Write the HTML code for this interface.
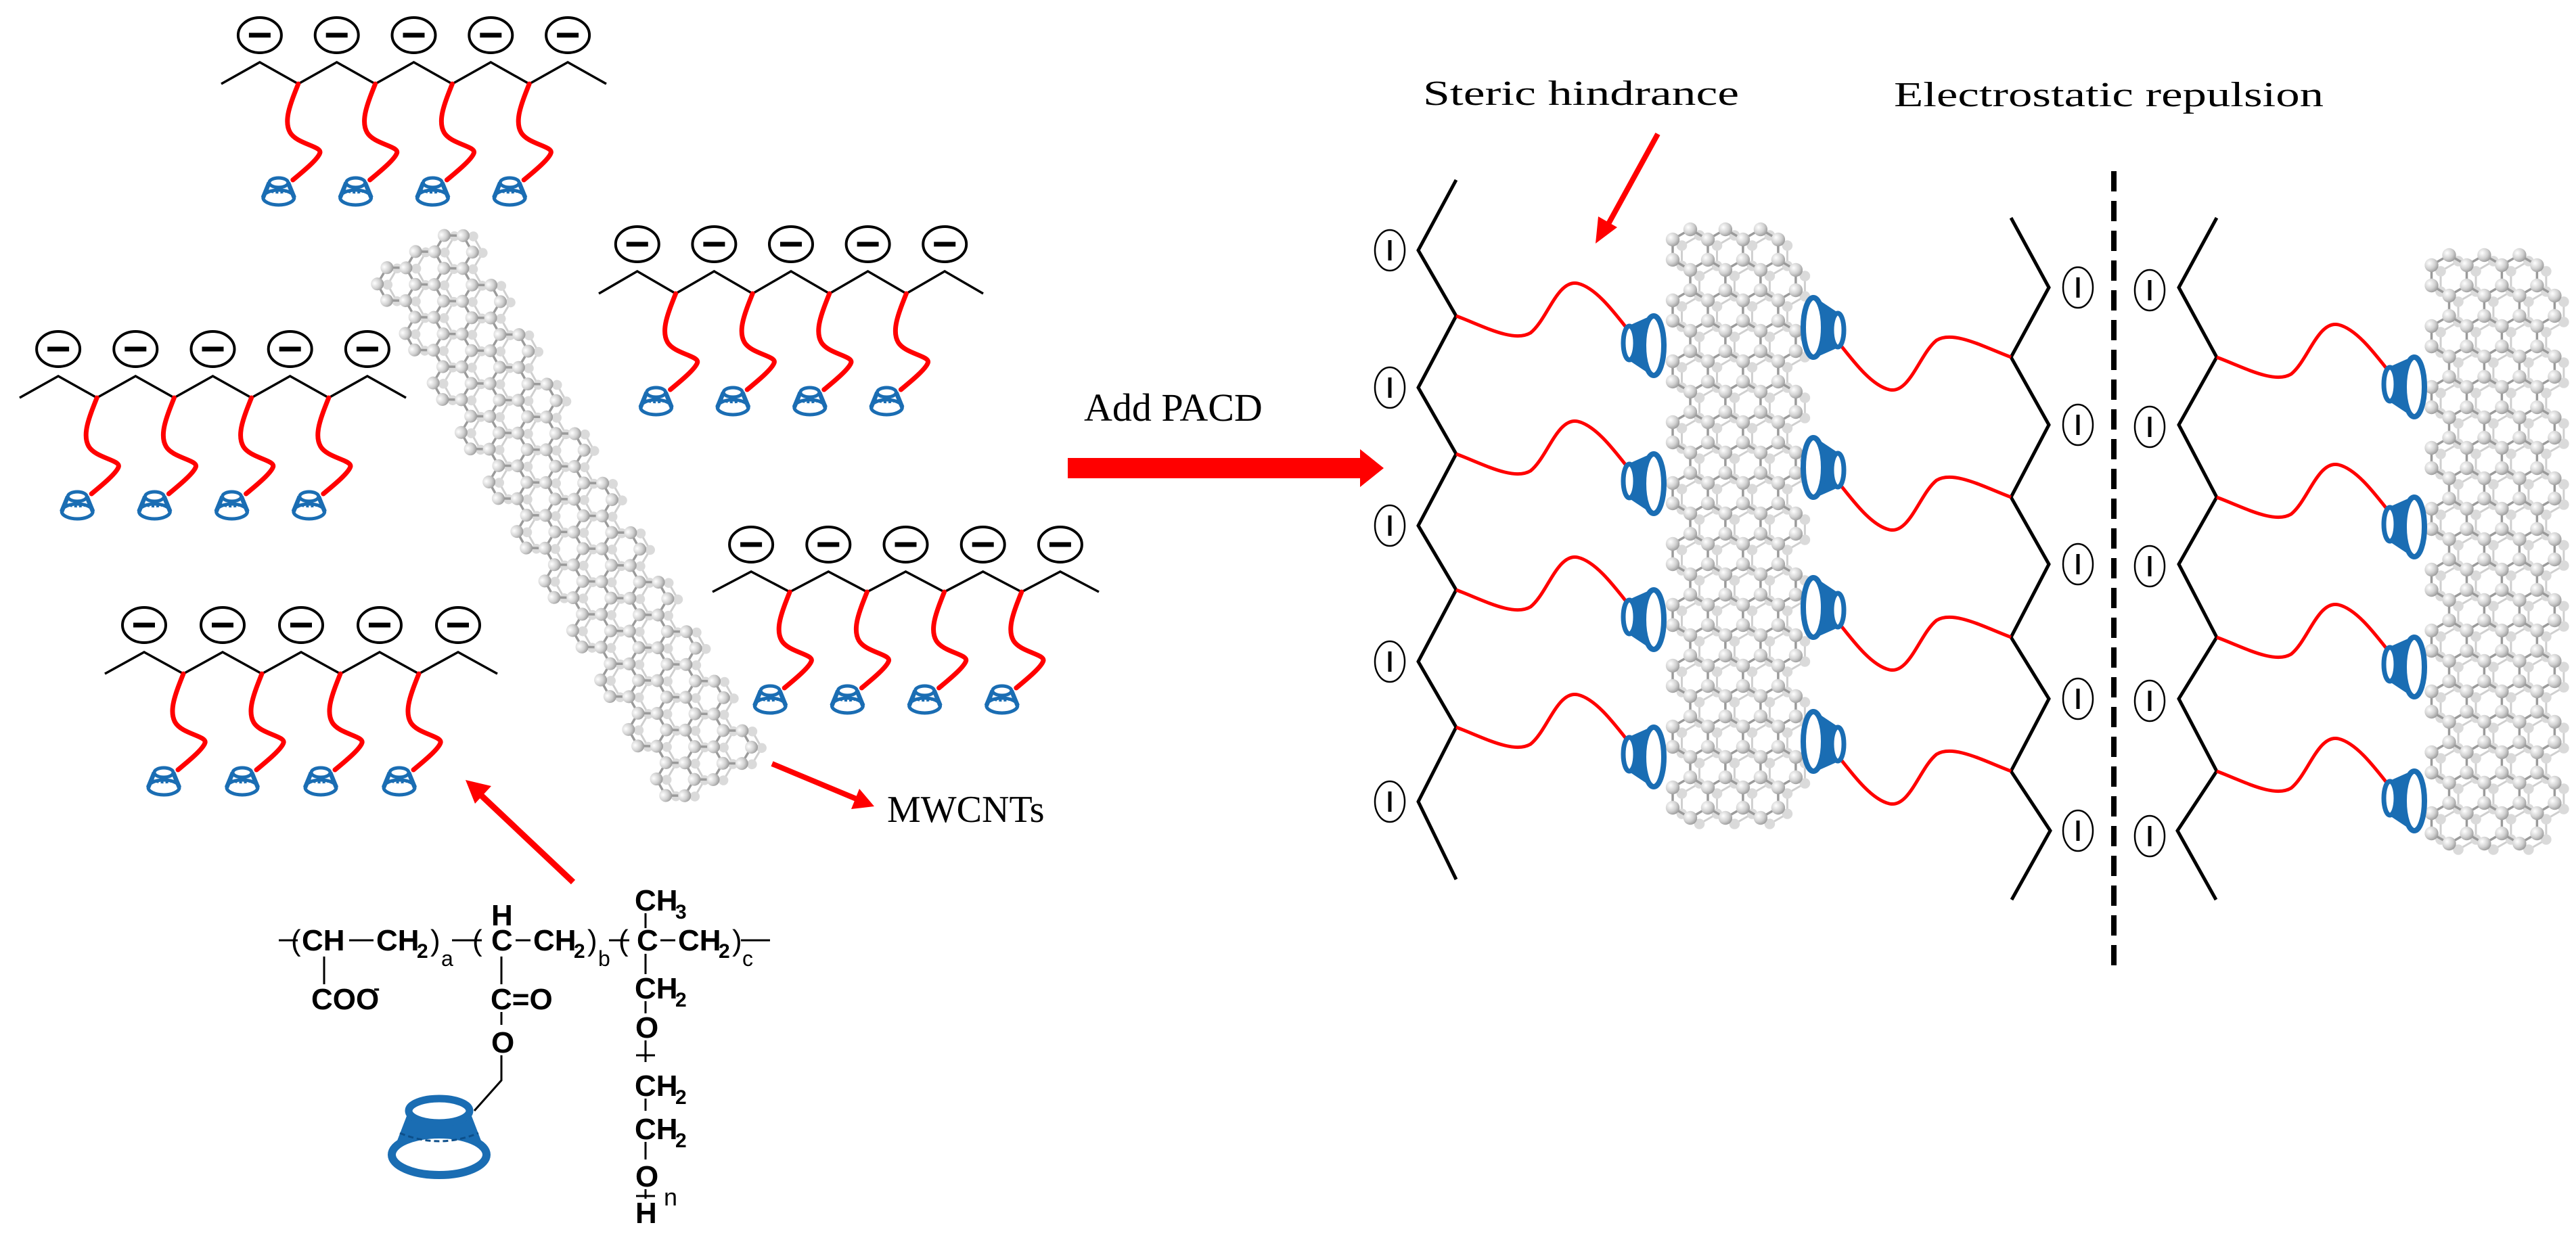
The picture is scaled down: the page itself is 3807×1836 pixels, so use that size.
<!DOCTYPE html>
<html><head><meta charset="utf-8"><style>
html,body{margin:0;padding:0;background:#fff;}
svg{display:block;}
.f{font-family:"Liberation Sans",sans-serif;font-weight:bold;font-size:44px;fill:#000;}
.t{font-family:"Liberation Serif",serif;fill:#000;}
</style></head><body>
<svg id="s" width="3807" height="1836" viewBox="0 0 3807 1836" xmlns="http://www.w3.org/2000/svg">
<defs>
<radialGradient id="ball" cx="0.35" cy="0.35" r="0.7"><stop offset="0" stop-color="#ffffff"/><stop offset="0.6" stop-color="#d0d0d0"/><stop offset="1" stop-color="#9a9a9a"/></radialGradient>
</defs>
<g id="cnts"></g>
<g id="main"></g>
<text class="t" x="1602" y="622" font-size="58">Add PACD</text>
<text class="t" x="2103" y="155" font-size="52" textLength="467" lengthAdjust="spacingAndGlyphs">Steric hindrance</text>
<text class="t" x="2799" y="157" font-size="52" textLength="635" lengthAdjust="spacingAndGlyphs">Electrostatic repulsion</text>
<text class="t" x="1311" y="1215" font-size="56">MWCNTs</text>
<rect x="1578" y="677" width="440" height="30" fill="#f00"/>
<polygon points="2010,664 2045,692 2010,720" fill="#f00"/>
<line x1="2450" y1="198" x2="2372" y2="340" stroke="#f00" stroke-width="8"/>
<polygon points="2358,360 2362,320 2390,336" fill="#f00"/>
<line x1="1141" y1="1129" x2="1268" y2="1182" stroke="#f00" stroke-width="8"/>
<polygon points="1292,1192 1258,1196 1270,1166" fill="#f00"/>
<line x1="847" y1="1304" x2="705" y2="1170" stroke="#f00" stroke-width="9"/>
<polygon points="688,1153 726,1162 702,1188" fill="#f00"/>
<line x1="3124" y1="253" x2="3124" y2="1427" stroke="#000" stroke-width="8" stroke-dasharray="30 14"/>
<g class="f">
<line x1="412" y1="1390" x2="440" y2="1390" stroke="#000" stroke-width="3"/>
<text x="430" y="1405" font-weight="normal">(</text>
<text x="446" y="1405">CH</text>
<line x1="516" y1="1390" x2="552" y2="1390" stroke="#000" stroke-width="3"/>
<text x="556" y="1405">CH</text><text x="616" y="1416" font-size="30">2</text>
<text x="636" y="1405" font-weight="normal">)</text><text x="652" y="1428" font-size="32" font-weight="normal">a</text>
<line x1="668" y1="1390" x2="712" y2="1390" stroke="#000" stroke-width="3"/>
<text x="698" y="1405" font-weight="normal">(</text>
<text x="726" y="1405">C</text>
<text x="726" y="1368">H</text>
<line x1="762" y1="1390" x2="784" y2="1390" stroke="#000" stroke-width="3"/>
<text x="788" y="1405">CH</text><text x="848" y="1416" font-size="30">2</text>
<text x="868" y="1405" font-weight="normal">)</text><text x="884" y="1428" font-size="32" font-weight="normal">b</text>
<line x1="900" y1="1390" x2="930" y2="1390" stroke="#000" stroke-width="3"/>
<text x="914" y="1405" font-weight="normal">(</text>
<text x="941" y="1405">C</text>
<line x1="976" y1="1390" x2="998" y2="1390" stroke="#000" stroke-width="3"/>
<text x="1002" y="1405">CH</text><text x="1062" y="1416" font-size="30">2</text>
<text x="1082" y="1405" font-weight="normal">)</text><text x="1097" y="1428" font-size="32" font-weight="normal">c</text>
<line x1="1095" y1="1390" x2="1138" y2="1390" stroke="#000" stroke-width="3"/>
<line x1="479" y1="1414" x2="479" y2="1455" stroke="#000" stroke-width="3"/>
<text x="460" y="1492">COO</text><text x="552" y="1470" font-size="28">-</text>
<line x1="741" y1="1414" x2="741" y2="1455" stroke="#000" stroke-width="3"/>
<text x="725" y="1492">C=O</text>
<line x1="741" y1="1496" x2="741" y2="1515" stroke="#000" stroke-width="3"/>
<text x="726" y="1556">O</text>
<polyline points="741,1560 741,1597 701,1642" fill="none" stroke="#000" stroke-width="3"/>
<text x="938" y="1346">CH</text><text x="998" y="1358" font-size="30">3</text>
<line x1="954" y1="1350" x2="954" y2="1372" stroke="#000" stroke-width="3"/>
<line x1="954" y1="1410" x2="954" y2="1440" stroke="#000" stroke-width="3"/>
<text x="938" y="1476">CH</text><text x="998" y="1488" font-size="30">2</text>
<line x1="954" y1="1480" x2="954" y2="1498" stroke="#000" stroke-width="3"/>
<text x="939" y="1534">O</text>
<line x1="954" y1="1538" x2="954" y2="1570" stroke="#000" stroke-width="3"/>
<line x1="940" y1="1560" x2="968" y2="1560" stroke="#000" stroke-width="3"/>
<text x="938" y="1620">CH</text><text x="998" y="1632" font-size="30">2</text>
<line x1="954" y1="1624" x2="954" y2="1642" stroke="#000" stroke-width="3"/>
<text x="938" y="1684">CH</text><text x="998" y="1696" font-size="30">2</text>
<line x1="954" y1="1688" x2="954" y2="1714" stroke="#000" stroke-width="3"/>
<text x="939" y="1754">O</text>
<line x1="954" y1="1758" x2="954" y2="1772" stroke="#000" stroke-width="3"/>
<line x1="940" y1="1768" x2="968" y2="1768" stroke="#000" stroke-width="3"/>
<text x="981" y="1782" font-size="36" font-weight="normal">n</text>
<text x="939" y="1808">H</text>
</g>
</svg>
<script>
let out="", cn="";
const BL="#1a6db3";
function E(tag,attrs){let s="<"+tag;for(const k in attrs)s+=" "+k+'="'+attrs[k]+'"';return s+"/>";}
function cnt(cx,cy,w,h,a,rot){
  const s3=Math.sqrt(3);const pts=new Map();const edges=new Set();
  for(let r=-1;r<=h/(1.5*a)+1;r++){for(let c=-1;c<=w/(s3*a)+1;c++){
    const hx=c*s3*a+(r&1)*s3*a/2, hy=r*1.5*a;
    if(hx<a*0.6||hx>w-a*0.6||hy<a*0.9||hy>h-a*0.9)continue;
    const ks=[];
    for(let k=0;k<6;k++){const an=(30+60*k)*Math.PI/180;const x=hx+a*Math.cos(an),y=hy+a*Math.sin(an);
      const key=Math.round(x)+","+Math.round(y);pts.set(key,[x,y]);ks.push(key);}
    for(let k=0;k<6;k++){const k1=ks[k],k2=ks[(k+1)%6];edges.add(k1<k2?k1+"|"+k2:k2+"|"+k1);}
  }}
  let head='<g transform="translate('+cx+','+cy+') rotate('+rot+') translate('+(-w/2)+','+(-h/2)+')">';
  let g="",g2="";
  edges.forEach(e=>{const [p,q]=e.split("|").map(k=>pts.get(k));
    g2+=E("line",{x1:(p[0]+a*0.45).toFixed(1),y1:(p[1]+a*0.3).toFixed(1),x2:(q[0]+a*0.45).toFixed(1),y2:(q[1]+a*0.3).toFixed(1),stroke:"#cfcfcf","stroke-width":3});
    g+=E("line",{x1:p[0].toFixed(1),y1:p[1].toFixed(1),x2:q[0].toFixed(1),y2:q[1].toFixed(1),stroke:"#9a9a9a","stroke-width":3.5});});
  let balls="",balls2="";
  pts.forEach(p=>{balls2+=E("circle",{cx:(p[0]+a*0.45).toFixed(1),cy:(p[1]+a*0.3).toFixed(1),r:(a*0.26).toFixed(1),fill:"#dadada"});
    balls+=E("circle",{cx:p[0].toFixed(1),cy:p[1].toFixed(1),r:(a*0.34).toFixed(1),fill:"url(#ball)"});});
  cn+=head+g2+balls2+g+balls+"</g>";
}
cnt(840,768,150,940,28,-29.4);
cnt(2562,780,180,912,30,0);
cnt(3686,822,185,920,30,0);

function cdUp(cx,cy,s){
  const sw=5*s;
  out+=E("path",{d:`M${cx-14*s},${cy-12*s} L${cx-23*s},${cy+10*s} M${cx+14*s},${cy-12*s} L${cx+23*s},${cy+10*s}`,stroke:BL,"stroke-width":sw*1.3,fill:"none"});
  out+=E("ellipse",{cx:cx,cy:cy+10*s,rx:23*s,ry:11*s,fill:"none",stroke:BL,"stroke-width":sw});
  out+=E("ellipse",{cx:cx,cy:cy-12*s,rx:14*s,ry:7*s,fill:"none",stroke:BL,"stroke-width":sw});
  out+=E("path",{d:`M${cx-18*s},${cy-1*s} Q${cx},${cy+6*s} ${cx+18*s},${cy-1*s}`,stroke:BL,"stroke-width":sw*0.7,fill:"none","stroke-dasharray":(4*s)+" "+(3*s)});
}
function leftChain(x0,hp,base,peak){
  let p=[];for(let k=0;k<=10;k++)p.push((x0+k*hp).toFixed(1)+","+(k%2?peak:base));
  out+=E("polyline",{points:p.join(" "),fill:"none",stroke:"#000","stroke-width":3.5});
  for(let j=0;j<5;j++){const cx=x0+hp*(2*j+1),cy=peak-40;
    out+=E("ellipse",{cx:cx,cy:cy,rx:32,ry:26,fill:"#fff",stroke:"#000","stroke-width":4});
    out+=E("line",{x1:cx-16,y1:cy,x2:cx+16,y2:cy,stroke:"#000","stroke-width":7});}
  for(let j=1;j<=4;j++){const vx=x0+hp*2*j,vy=base;
    out+=E("path",{d:`M${vx},${vy} C${vx-12},${vy+30} ${vx-22},${vy+55} ${vx-12},${vy+72} S${vx+35},${vy+92} ${vx+32},${vy+102} S${vx+4},${vy+132} ${vx-8},${vy+142}`,fill:"none",stroke:"#f00","stroke-width":7,"stroke-linecap":"round"});
    cdUp(vx-29,vy+158,1);}
}
leftChain(327,56.9,124,92);
leftChain(29,57.1,588,556);
leftChain(885,56.8,434,401);
leftChain(1053,57.1,875,845);
leftChain(155,58,996,964);
(function(){const cx=649,cy=1677;
  out+=E("path",{d:`M${cx-45},${cy-35} L${cx-70},${cy+30} L${cx+70},${cy+30} L${cx+45},${cy-35} Z`,fill:BL});
  out+=E("ellipse",{cx:cx,cy:cy+30,rx:70,ry:30,fill:"#fff",stroke:BL,"stroke-width":12});
  out+=E("ellipse",{cx:cx,cy:cy-35,rx:45,ry:18,fill:"#fff",stroke:BL,"stroke-width":11});
  out+=E("path",{d:`M${cx-58},${cy-2} Q${cx},${cy+22} ${cx+58},${cy-2}`,stroke:"#0d4f8a","stroke-width":3,fill:"none","stroke-dasharray":"8 5"});
})();
function arm(X,Y,flip){
  let g='<g transform="translate('+X+','+Y+')'+(flip?' rotate(180)':'')+'">';
  g+=E("path",{d:"M0,0 C40,15 85,40 110,25 C135,5 150,-55 180,-48 C205,-42 230,-10 252,18",fill:"none",stroke:"#f00","stroke-width":5});
  g+=E("path",{d:"M256,14 L292,-2 L292,90 L256,66 Z",fill:BL});
  g+=E("ellipse",{cx:292,cy:44,rx:15,ry:44,fill:"#fff",stroke:BL,"stroke-width":8});
  g+=E("ellipse",{cx:256,cy:40,rx:9,ry:25,fill:"#fff",stroke:BL,"stroke-width":7});
  g+="</g>";out+=g;
}
function plusCircle(cx,cy){
  out+=E("ellipse",{cx:cx,cy:cy,rx:22,ry:30,fill:"#fff",stroke:"#000","stroke-width":2.5});
  out+=E("line",{x1:cx,y1:cy-15,x2:cx,y2:cy+15,stroke:"#000","stroke-width":5});
}
out+=E("polyline",{points:"2152,266 2096,370 2152,467 2096,573 2152,671 2096,777 2152,872 2096,978 2152,1075 2096,1185 2152,1300",fill:"none",stroke:"#000","stroke-width":5});
[370,573,777,978,1185].forEach(y=>plusCircle(2054,y));
[467,671,872,1075].forEach(y=>arm(2152,y,false));
out+=E("polyline",{points:"2972,322 3028,425 2972,528 3028,628 2972,735 3028,834 2972,942 3028,1033 2972,1140 3030,1228 2973,1330",fill:"none",stroke:"#000","stroke-width":5});
[425,628,834,1033,1228].forEach(y=>plusCircle(3071,y));
[528,735,942,1140].forEach(y=>arm(2972,y,true));
out+=E("polyline",{points:"3276,322 3220,425 3276,528 3220,628 3276,735 3220,834 3276,942 3220,1033 3276,1140 3218,1228 3275,1330",fill:"none",stroke:"#000","stroke-width":5});
[429,631,837,1036,1236].forEach(y=>plusCircle(3177,y));
[528,735,942,1140].forEach(y=>arm(3276,y,false));
document.getElementById("cnts").innerHTML=cn;
document.getElementById("main").innerHTML=out;
</script>
</body></html>
